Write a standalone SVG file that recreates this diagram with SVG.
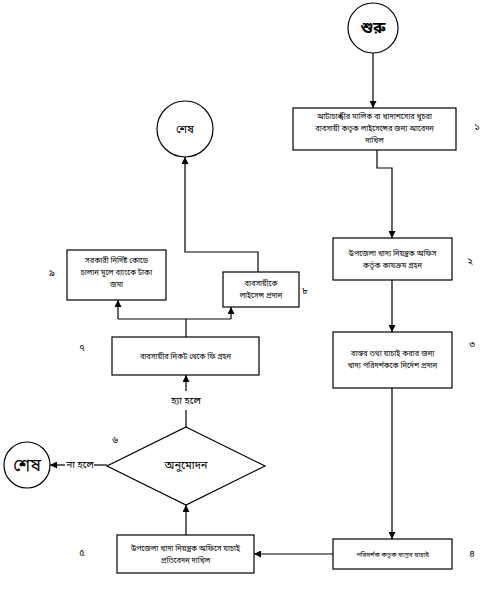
<svg xmlns="http://www.w3.org/2000/svg" width="502" height="598" viewBox="0 0 502 598">
<defs>
<marker id="ah" viewBox="0 0 10 10" refX="10" refY="5" markerWidth="7" markerHeight="7" orient="auto-start-reverse" markerUnits="userSpaceOnUse"><path d="M0,0 L10,5 L0,10 z" fill="#000"/></marker>
<style>
.b{fill:#fff;stroke:#000;stroke-width:1.2}
.c{fill:none;stroke:#000;stroke-width:1.2}
.t{font-family:"Noto Sans Bengali","Noto Sans","Liberation Sans",sans-serif;font-size:7.5px;fill:#000;text-anchor:middle}
.n{font-family:"Noto Sans Bengali","Noto Sans","Liberation Sans",sans-serif;font-size:9.5px;fill:#000;text-anchor:middle}
.l{font-family:"Noto Sans Bengali","Noto Sans","Liberation Sans",sans-serif;font-size:10px;fill:#000;text-anchor:middle}
</style>
</defs>
<rect width="502" height="598" fill="#fff"/>
<g id="connectors">
<path class="c" d="M373,53 V108" marker-end="url(#ah)"/>
<path class="c" d="M377,150 V168 H392 V238" marker-end="url(#ah)"/>
<path class="c" d="M392,280 V332" marker-end="url(#ah)"/>
<path class="c" d="M392,388 V539" marker-end="url(#ah)"/>
<path class="c" d="M333,554 H254" marker-end="url(#ah)"/>
<path class="c" d="M186,535 V505" marker-end="url(#ah)"/>
<path class="c" d="M186,427 V410"/>
<path class="c" d="M186,391 V375" marker-end="url(#ah)"/>
<path class="c" d="M107,465 H94"/>
<path class="c" d="M65,465 H50" marker-end="url(#ah)"/>
<path class="c" d="M186,337 V319"/>
<path class="c" d="M118,319 H231"/>
<path class="c" d="M118,319 V300" marker-end="url(#ah)"/>
<path class="c" d="M231,319 V307" marker-end="url(#ah)"/>
<path class="c" d="M258,272 V252 H185 V157" marker-end="url(#ah)"/>
</g>
<g id="start"><circle class="b" cx="373" cy="28" r="25"/><text x="373" y="33" style="font-family:'Noto Sans Bengali','Noto Sans',sans-serif;font-size:15px;font-weight:bold;text-anchor:middle">শুরু</text></g>
<g id="n1"><rect class="b" x="293" y="108" width="163" height="42"/>
<text class="t" x="374.5" y="119">আটাচাক্কীর মালিক বা খাদ্যশস্যের খুচরা</text>
<text class="t" x="374.5" y="131">ব্যবসায়ী কতৃক লাইসেন্সের জন্য আবেদন</text>
<text class="t" x="374.5" y="143">দাখিল</text>
<text class="n" x="477" y="130">১</text></g>
<g id="n2"><rect class="b" x="333" y="238" width="119" height="42"/>
<text class="t" x="392.5" y="256">উপজেলা খাদ্য নিয়ন্ত্রক অফিস</text>
<text class="t" x="392.5" y="268">কর্তৃক কাযক্রম গ্রহন</text>
<text class="n" x="470" y="264">২</text></g>
<g id="n3"><rect class="b" x="333" y="332" width="119" height="56"/>
<text class="t" x="392.5" y="356">বাস্তব তথ্য যাচাই করার জন্য</text>
<text class="t" x="392.5" y="368">খাদ্য পরিদর্শককে নির্দেশ প্রদান</text>
<text class="n" x="472" y="347">৩</text></g>
<g id="n4"><rect class="b" x="333" y="539" width="119" height="30"/>
<text class="t" x="392.5" y="557" style="font-size:6.5px">পরিদর্শক কতৃক বাস্তব যাচাই</text>
<text class="n" x="472" y="557">৪</text></g>
<g id="n5"><rect class="b" x="117" y="535" width="137" height="38"/>
<text class="t" x="185.5" y="551">উপজেলা খাদ্য নিয়ন্ত্রক অফিসে যাচাই</text>
<text class="t" x="185.5" y="563">প্রতিবেদন দাখিল</text>
<text class="n" x="82" y="556">৫</text></g>
<g id="n6"><polygon class="b" points="186,427 265,466 186,505 107,466"/>
<text x="186" y="469" style="font-family:'Noto Sans Bengali','Noto Sans',sans-serif;font-size:11px;text-anchor:middle">অনুমোদন</text>
<text class="n" x="115" y="443">৬</text>
<text class="l" x="186" y="404">হ্যা হলে</text>
<text class="l" x="80" y="468">না হলে</text></g>
<g id="end1"><circle class="b" cx="27" cy="465" r="23"/><text x="27" y="471" style="font-family:'Noto Sans Bengali','Noto Sans',sans-serif;font-size:17px;text-anchor:middle">শেষ</text></g>
<g id="n7"><rect class="b" x="112" y="337" width="147" height="38"/>
<text class="t" x="185.5" y="359">ব্যবসায়ীর নিকট থেকে ফি গ্রহন</text>
<text class="n" x="82" y="351">৭</text></g>
<g id="n9"><rect class="b" x="67" y="250" width="99" height="50"/>
<text class="t" x="116.5" y="263">সরকারী নির্দিষ্ট কোডে</text>
<text class="t" x="116.5" y="275">চালান মূলে ব্যাংকে টাকা</text>
<text class="t" x="116.5" y="287">জমা</text>
<text class="n" x="52" y="276">৯</text></g>
<g id="n8"><rect class="b" x="223" y="272" width="76" height="35"/>
<text class="t" x="261" y="286">ব্যবসায়ীকে</text>
<text class="t" x="261" y="298">লাইসেন্স প্রদান</text>
<text class="n" x="305" y="294">৮</text></g>
<g id="end2"><circle class="b" cx="185" cy="129" r="28"/><text x="185" y="133" style="font-family:'Noto Sans Bengali','Noto Sans',sans-serif;font-size:11px;text-anchor:middle">শেষ</text></g>
</svg>
